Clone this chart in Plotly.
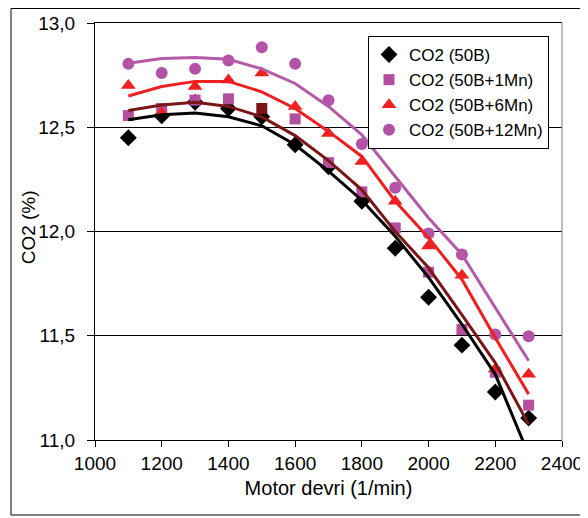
import plotly.graph_objects as go

# ---- data ----
rpm = [1100, 1200, 1300, 1400, 1500, 1600, 1700, 1800, 1900, 2000, 2100, 2200, 2300]

co2_50b = [12.45, 12.555, 12.62, 12.59, 12.55, 12.416, 12.31, 12.145, 11.92, 11.685, 11.455, 11.23, 11.105]
co2_50b_1mn = [12.556, 12.59, 12.63, 12.636, 12.59, 12.54, 12.33, 12.19, 12.017, 11.805, 11.53, 11.325, 11.167]
co2_50b_6mn = [12.70, 12.57, 12.695, 12.727, 12.76, 12.60, 12.47, 12.336, 12.145, 11.93, 11.79, 11.34, 11.315]
co2_50b_12mn = [12.804, 12.76, 12.78, 12.82, 12.884, 12.804, 12.63, 12.42, 12.21, 11.99, 11.89, 11.506, 11.498]

# trend curves
trend_50b = [12.536, 12.56, 12.568, 12.55, 12.507, 12.416, 12.29, 12.15, 11.977, 11.78, 11.555, 11.315, 10.93]
trend_50b_1mn = [12.58, 12.607, 12.62, 12.60, 12.55, 12.46, 12.34, 12.20, 12.00, 11.826, 11.60, 11.37, 11.075]
trend_50b_6mn = [12.65, 12.695, 12.72, 12.72, 12.67, 12.59, 12.48, 12.36, 12.145, 11.97, 11.77, 11.49, 11.22]
trend_50b_12mn = [12.807, 12.83, 12.835, 12.826, 12.78, 12.71, 12.60, 12.464, 12.264, 12.065, 11.89, 11.634, 11.38]

names = ["CO2 (50B)", "CO2 (50B+1Mn)", "CO2 (50B+6Mn)", "CO2 (50B+12Mn)"]
x_ticks = [1000, 1200, 1400, 1600, 1800, 2000, 2200, 2400]
y_ticks = [11.0, 11.5, 12.0, 12.5, 13.0]
y_tick_text = ["11,0", "11,5", "12,0", "12,5", "13,0"]

FONT = "Liberation Sans, Arial, sans-serif"

# figure geometry (page body has an 8px margin)
W, H = 580, 510
ML, MR, MT, MB = 87, 26, 15, 78
PW, PH = W - ML - MR, H - MT - MB

fig = go.Figure()

series = [co2_50b, co2_50b_1mn, co2_50b_6mn, co2_50b_12mn]
trends = [trend_50b, trend_50b_1mn, trend_50b_6mn, trend_50b_12mn]
marker_symbols = ["diamond", "square", "triangle-up", "circle"]
marker_sizes = [13, 11, 13, 12]
marker_colors = ["#000000", "#b44fa0", "#ee2020", "#b452a8"]
line_colors = ["#000000", "#7a1616", "#ee2020", "#b45aa8"]

sq_colors = [marker_colors[1]] * len(rpm)
sq_colors[4] = "#7a1616"

for i in range(4):
    mc = sq_colors if i == 1 else marker_colors[i]
    fig.add_trace(go.Scatter(
        x=rpm, y=series[i], mode="markers", name=names[i],
        marker=dict(symbol=marker_symbols[i], size=marker_sizes[i], color=mc,
                    line=dict(width=0)),
    ))

for i in range(4):
    fig.add_trace(go.Scatter(
        x=rpm, y=trends[i], mode="lines", showlegend=False,
        line=dict(color=line_colors[i], width=3),
        hoverinfo="skip",
    ))

fig.update_layout(
    width=W, height=H,
    margin=dict(l=ML, r=MR, t=MT, b=MB, autoexpand=False),
    paper_bgcolor="white", plot_bgcolor="white",
    font=dict(family=FONT, size=19, color="#000000"),
    showlegend=True,
    legend=dict(
        x=(541 - ML) / PW, y=(PH + MT - 28) / PH, xanchor="right", yanchor="top",
        bgcolor="white", bordercolor="#000000", borderwidth=1,
        font=dict(family=FONT, size=17, color="#000000"),
        tracegroupgap=0, itemwidth=30,
    ),
    xaxis=dict(
        range=[1000, 2400], tickvals=x_ticks, ticks="outside", ticklen=6,
        tickcolor="#000000", showgrid=False, zeroline=False,
        showline=True, linecolor="#000000", linewidth=1, mirror=True,
        title=dict(text="Motor devri (1/min)", font=dict(size=20), standoff=8),
        tickfont=dict(size=19), automargin=False,
    ),
    yaxis=dict(
        range=[11.0, 13.0], tickvals=y_ticks, ticktext=y_tick_text,
        ticks="outside", ticklen=7, tickcolor="#000000", ticklabelstandoff=8,
        showgrid=True, gridcolor="#000000", gridwidth=1, zeroline=False,
        showline=True, linecolor="#000000", linewidth=1,
        tickfont=dict(size=19), automargin=False,
    ),
    annotations=[
        dict(text="CO2 (%)", xref="paper", yref="paper",
             x=(20 - ML) / PW, y=0.51, xanchor="center", yanchor="middle",
             textangle=-90, showarrow=False, font=dict(family=FONT, size=19)),
    ],
    shapes=[
        dict(type="line", xref="paper", yref="paper", x0=1, x1=1, y0=0, y1=1,
             line=dict(color="#808080", width=1)),
        dict(type="rect", xref="paper", yref="paper",
             x0=(3 - ML) / PW, x1=(577 - ML) / PW,
             y0=(PH + MT - 507) / PH, y1=(PH + MT - 0.5) / PH,
             line=dict(color="#000000", width=1), layer="above"),
    ],
)

fig.write_html("out.html")
